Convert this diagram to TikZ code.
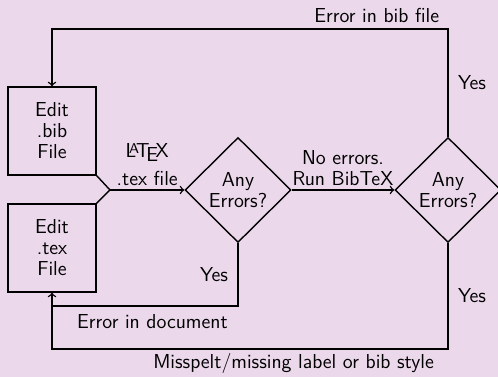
\documentclass[tikz,border=0pt]{standalone}
\usetikzlibrary{shapes.geometric}
\definecolor{bgpurple}{RGB}{235,216,235}
\begin{document}
\begin{tikzpicture}[x=0.02cm,y=-0.02cm,font=\fontsize{11.5}{12}\selectfont\sffamily]
		\tikzstyle{filebox}=[draw,thick,rectangle,minimum width=1.76cm,minimum height=1.76cm,inner sep=0pt,align=center]
		\tikzstyle{check}=[draw,thick,diamond,minimum width=2.12cm,minimum height=2.1cm,inner sep=0pt,align=center]
		\tikzstyle{edge} = [draw,thick,black]
		
		\fill[bgpurple] (0,0) rectangle (498,377);
		\useasboundingbox (0,0) rectangle (498,377);
		
		\node[filebox] (bib) at (52,131) {Edit\\.bib\\File};
		\node[filebox] (tex) at (52,248) {Edit\\.tex\\File};
		\node[check] (err1) at (238,190) {Any\\Errors?};
		\node[check] (err2) at (448,190) {Any\\Errors?};
		
		\coordinate (split) at (110,190);
		\coordinate (bibtop) at (52,29);
		\coordinate (bibcorner) at (448,29);
		\coordinate (doccorner) at (238,306);
		\coordinate (docend) at (52,306);
		\coordinate (stylecorner) at (448,349);
		\coordinate (styleend) at (52,349);
		
		\draw[edge] (bib.south east) -- (split) -- (tex.north east);
		\draw[edge,->] (split) -- node[above,align=center,inner sep=2pt] {\LaTeX\\[4pt].tex file} (err1);
		\draw[edge,->] (err1) -- node[above,align=center,inner sep=2pt] {No errors.\\Run BibTeX} (err2);
		
		\draw[edge,->] (err2.north) -- node[right,xshift=2pt] {Yes} (bibcorner) -- node[pos=0.18,above] {Error in bib file} (bibtop) -- (bib.north);
		\draw[edge] (err1.south) -- node[left,xshift=-2pt] {Yes} (doccorner) -- node[pos=0.46,below,yshift=-1pt] {Error in document} (docend);
		\draw[edge,->] (err2.south) -- node[right,xshift=2pt] {Yes} (stylecorner) -- node[pos=0.39,below,inner sep=2pt] {Misspelt/missing label or bib style} (styleend) -- (tex.south);
		\end{tikzpicture}
\end{document}
